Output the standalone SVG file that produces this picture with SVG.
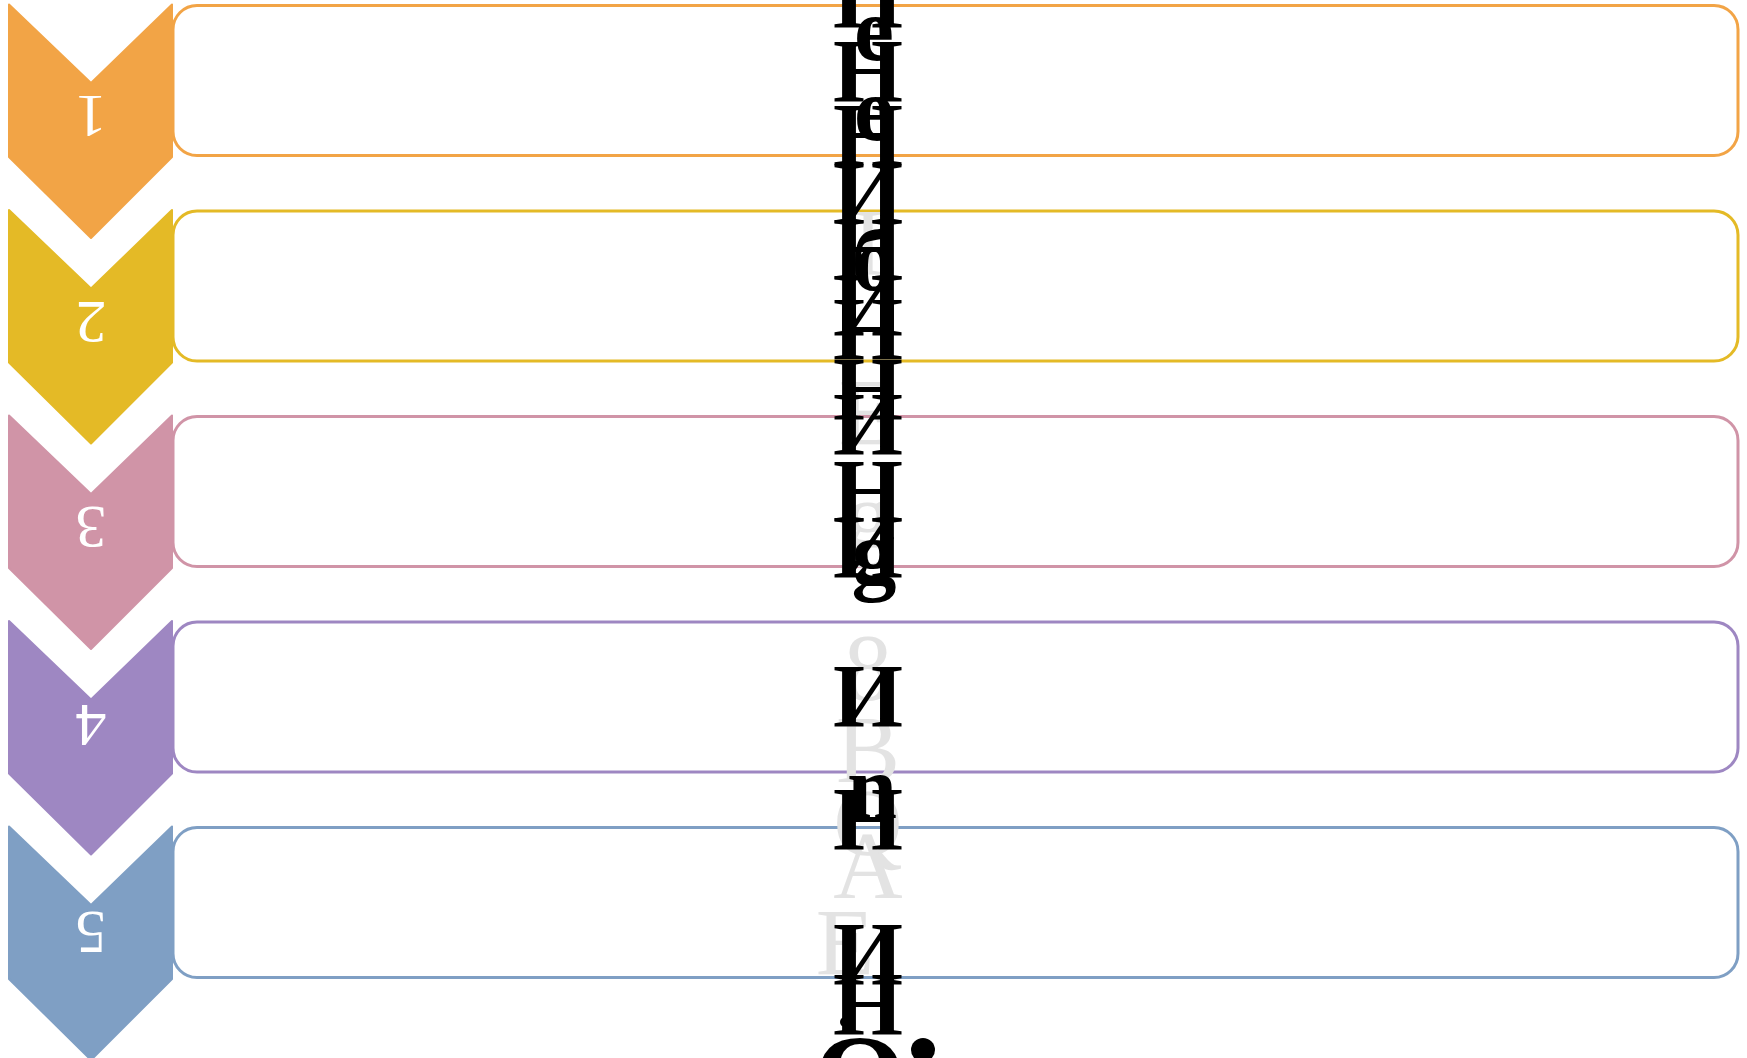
<svg xmlns="http://www.w3.org/2000/svg" width="1747" height="1058" viewBox="0 0 1747 1058">
<style>
.box{fill:#fff;stroke-width:3}
.chev{stroke-linejoin:round;stroke-width:2}
.num{font-family:"Liberation Serif",serif;font-size:62px;fill:#fff;text-anchor:middle}
.blk{font-family:"Liberation Serif",serif;font-weight:bold;font-size:90px;fill:#000;text-anchor:middle}
.gry{font-family:"Liberation Serif",serif;font-size:96px;fill:#e3e3e3;text-anchor:middle}
</style>
<rect width="1747" height="1058" fill="#fff"/>
<g id="node1">
<rect class="box" x="173" y="5.5" width="1565" height="150" rx="24" stroke="#f2a446"/>
<polygon class="chev" points="9,4.5 91,83 172,4.5 172,157 91,238 9,157" fill="#f2a446" stroke="#f2a446"/>
<text class="num" x="91" y="138" transform="rotate(180 91 117)">1</text>
</g>
<g id="node2">
<rect class="box" x="173" y="211" width="1565" height="150" rx="24" stroke="#e4ba26"/>
<polygon class="chev" points="9,210 91,288.5 172,210 172,362.5 91,443.5 9,362.5" fill="#e4ba26" stroke="#e4ba26"/>
<text class="num" x="91" y="343.5" transform="rotate(180 91 322.5)">2</text>
</g>
<g id="node3">
<rect class="box" x="173" y="416.5" width="1565" height="150" rx="24" stroke="#d094a7"/>
<polygon class="chev" points="9,415.5 91,494 172,415.5 172,568 91,649 9,568" fill="#d094a7" stroke="#d094a7"/>
<text class="num" x="91" y="549" transform="rotate(180 91 528)">3</text>
</g>
<g id="node4">
<rect class="box" x="173" y="622" width="1565" height="150" rx="24" stroke="#9e87c2"/>
<polygon class="chev" points="9,621 91,699.5 172,621 172,773.5 91,854.5 9,773.5" fill="#9e87c2" stroke="#9e87c2"/>
<text class="num" x="91" y="747" transform="rotate(180 91 726)">4</text>
</g>
<g id="node5">
<rect class="box" x="173" y="827.5" width="1565" height="150" rx="24" stroke="#7f9fc4"/>
<polygon class="chev" points="9,826.5 91,905 172,826.5 172,979 91,1060 9,979" fill="#7f9fc4" stroke="#7f9fc4"/>
<text class="num" x="91" y="954" transform="rotate(180 91 933)">5</text>
</g>
<g id="connectors"></g>
<g id="garbled-text">
<g class="gry">
<text x="868" y="275">I</text>
<text x="868" y="445">E</text>
<text x="868" y="548">g</text>
<text x="868" y="700">8</text>
<text x="868" y="782">B</text>
<text x="868" y="855">Q</text>
<text x="868" y="898">A</text>
<text x="845" y="975">E</text>
</g>
<g class="blk">
<text x="868" y="28">H</text>
<text x="874" y="60">e</text>
<text x="868" y="102">H</text>
<text x="874" y="140">e</text>
<text x="868" y="166">H</text>
<text x="868" y="224">И</text>
<text x="868" y="280">H</text>
<text x="874" y="290">б</text>
<text x="868" y="336">И</text>
<text x="868" y="360">H</text>
<text x="868" y="420">H</text>
<text x="868" y="455">И</text>
<text x="868" y="522">H</text>
<text x="868" y="578">И</text>
<text x="874" y="584">g</text>
<text x="868" y="727">И</text>
<text x="868" y="850">H</text>
<text x="872" y="818">n</text>
<text x="868" y="985">И</text>
<text x="868" y="1035">H</text>
<text x="860" y="1118" font-size="120">O</text>
<circle cx="845" cy="1022" r="5" fill="#000"/>
<circle cx="923" cy="1050" r="12" fill="#000"/>
</g>
</g>
</svg>
